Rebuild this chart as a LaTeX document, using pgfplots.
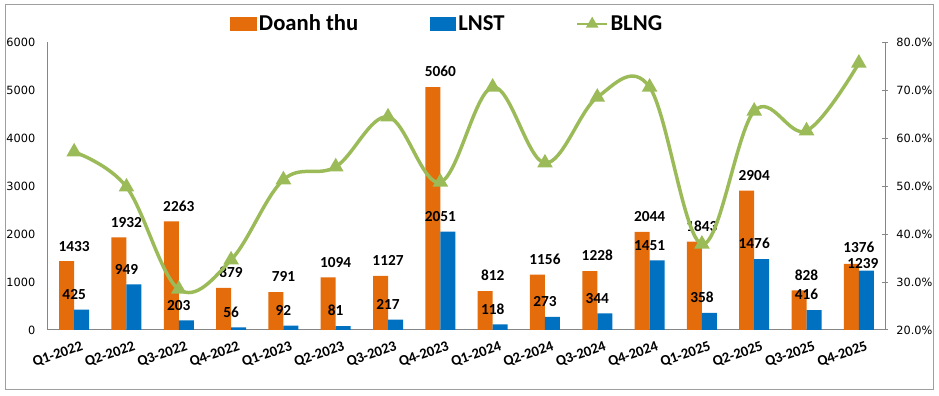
\documentclass[border=0pt]{standalone}
\usepackage{pgfplots}
\pgfplotsset{compat=1.18}
\usepackage{pgfplotstable}
\usepackage{fontspec}
\setmainfont{Carlito}
\newfontfamily\tickfont{DejaVu Sans}
\definecolor{dtorange}{HTML}{E46C0A}
\definecolor{lnblue}{HTML}{0070C0}
\definecolor{blgreen}{HTML}{9BBB59}
\definecolor{axgrey}{HTML}{868686}

\pgfplotsset{bl legend/.style={legend image code/.code={\draw[mark repeat=2,mark phase=2,##1] plot coordinates {(0cm,0cm) (11.25pt,0cm) (22.5pt,0cm)};}}}

\pgfplotstableread{
x dt ln bl dtoff lnoff lnx
0 1433 425 57.1 4 4 0
1 1932 949 49.8 4 4 0
2 2263 203 28.5 4 4 0
3 879 56 34.6 4 4 0
4 791 92 51.3 4 4 0
5 1094 81 54.0 4 4 0
6 1127 217 64.4 4 4 0
7 5060 2051 50.8 4 4 0
8 812 118 70.6 4 4 0
9 1156 273 54.8 4 4 0
10 1228 344 68.5 4 4 0
11 2044 1451 70.6 4 4 0
12 1843 358 37.9 4 4 0
13 2904 1476 65.6 4 4 0
14 828 416 61.5 4 4 0
15 1376 1239 75.6 5 -2 3
}\data

\begin{document}
\begin{tikzpicture}
\begin{axis}[
  at={(0,0)}, anchor=south west,
  scale only axis, width=627.75pt, height=216pt,
  xmin=-0.5, xmax=15.5, ymin=0, ymax=6000,
  axis y line*=left, axis x line*=bottom,
  axis line style={axgrey, line width=0.75pt, -},
  major tick length=0pt,
  /pgf/number format/1000 sep={},
  /pgf/number format/assume math mode=true,
  ytick={0,1000,...,6000},
  yticklabel style={font=\tickfont\fontsize{8.5}{10}\selectfont, black, xshift=-6pt},
  xtick={0,...,15},
  xticklabels={Q1-2022,Q2-2022,Q3-2022,Q4-2022,Q1-2023,Q2-2023,Q3-2023,Q4-2023,Q1-2024,Q2-2024,Q3-2024,Q4-2024,Q1-2025,Q2-2025,Q3-2025,Q4-2025},
  xticklabel style={font=\bfseries\fontsize{11}{13}\selectfont, rotate=19, anchor=north east, inner sep=1pt, yshift=-8pt, xshift=3pt},
  legend style={at={(0.477,1.0625)}, anchor=center, draw=none, fill=none,
    font=\bfseries\fontsize{17}{20}\selectfont,
    nodes={inner sep=1.5pt},
    /tikz/every even column/.append style={column sep=52pt}},
  legend columns=3,
]
\addplot[ybar, bar width=11.25pt, bar shift=-5.625pt, fill=dtorange, draw=none,
  visualization depends on={\thisrow{dtoff} \as \dtoff},
  nodes near coords, nodes near coords style={font=\bfseries\fontsize{11.5}{13}\selectfont, black, yshift=\dtoff pt},
  legend image code/.code={\fill[dtorange] (0pt,-5pt) rectangle (20pt,5pt);}]
  table[x=x,y=dt]{\data};
\addlegendentry{Doanh thu}
\addplot[ybar, bar width=11.25pt, bar shift=5.625pt, fill=lnblue, draw=none,
  visualization depends on={\thisrow{lnoff} \as \lnoff},
  visualization depends on={\thisrow{lnx} \as \lnx},
  nodes near coords, nodes near coords style={font=\bfseries\fontsize{11.5}{13}\selectfont, black, yshift=\lnoff pt, xshift=\lnx pt},
  legend image code/.code={\fill[lnblue] (0pt,-5pt) rectangle (20pt,5pt);}]
  table[x=x,y=ln]{\data};
\addlegendentry{LNST}
\addlegendimage{blgreen, line width=2pt, mark=triangle*, mark size=3.5pt, bl legend}
\addlegendentry{BLNG}
\end{axis}
\begin{axis}[
  at={(0,0)}, anchor=south west,
  scale only axis, width=627.75pt, height=216pt,
  xmin=-0.5, xmax=15.5, ymin=20, ymax=80,
  axis x line=none, axis y line*=right,
  axis line style={axgrey, line width=0.75pt, -},
  major tick length=4pt, tick align=center, tick style={axgrey, line width=0.75pt},
  /pgf/number format/assume math mode=true,
  ytick={20,30,...,80},
  yticklabel={\pgfmathprintnumber[fixed,fixed zerofill,precision=1]{\tick}\%},
  yticklabel style={font=\tickfont\fontsize{8.5}{10}\selectfont, black, xshift=3pt},
]
\addplot[blgreen, line width=2.6pt, smooth, tension=0.6, mark=triangle*, mark size=4.2pt]
  table[x=x,y=bl]{\data};
\end{axis}
\draw[axgrey!80, line width=0.75pt] (-32.25pt,-45pt) rectangle (663.75pt,243.75pt);
\pgfresetboundingbox
\useasboundingbox (-36pt,-49.5pt) rectangle (668.25pt,247.5pt);
\end{tikzpicture}
\end{document}
